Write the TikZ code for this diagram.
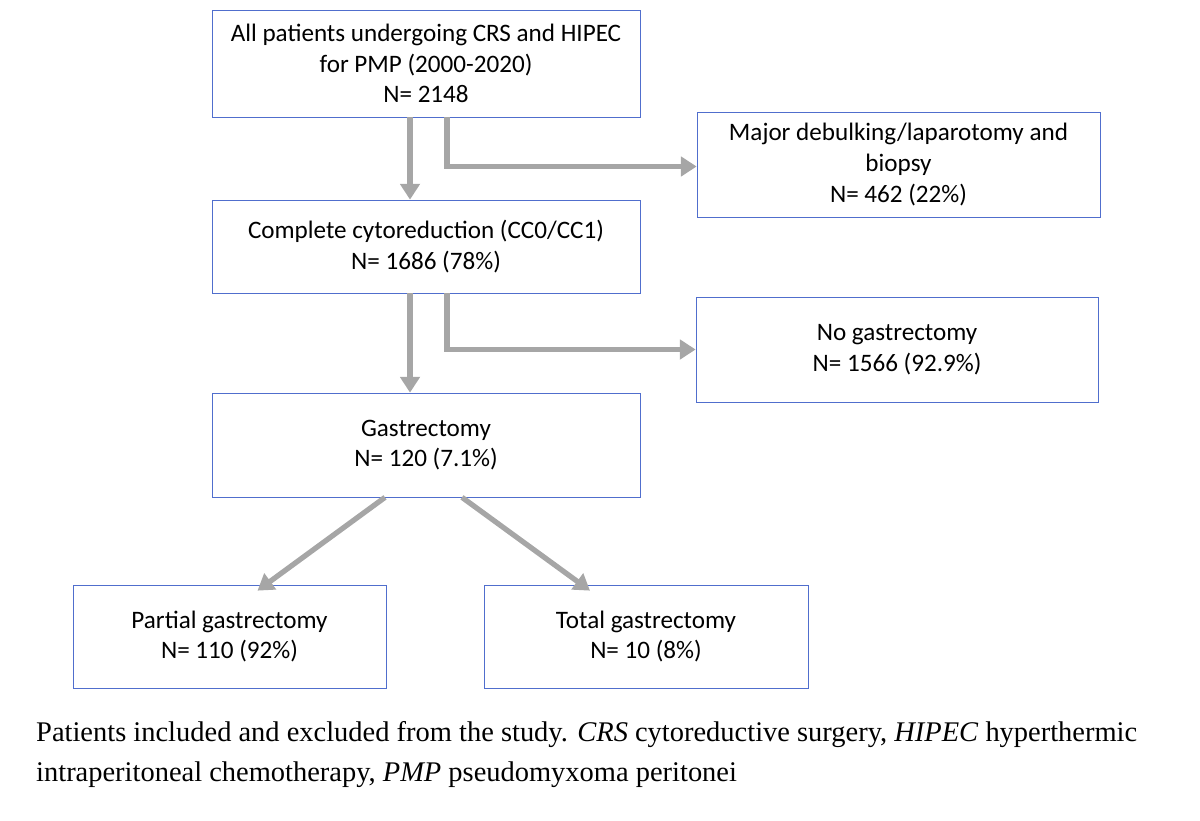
\documentclass[tikz,border=0pt]{standalone}
\usepackage{fontspec}
\setmainfont{Carlito}
\newfontfamily\capfont{Liberation Serif}
\usetikzlibrary{arrows.meta}
\definecolor{boxblue}{RGB}{80,110,205}
\begin{document}
\begin{tikzpicture}[x=0.02cm,y=-0.02cm,
    flowbox/.style={draw=boxblue, thin, align=center, inner sep=0pt,
      font=\fontsize{14.3}{17.5}\selectfont},
    flowarrow/.style={draw=gray!70, line width=3pt, -{Triangle[length=9pt,width=11pt]}}]
  \useasboundingbox (0,0) rectangle (1200,821);
  % boxes
  \node[flowbox, minimum width=428*0.02cm, minimum height=107*0.02cm] (all) at (426,63.5)
    {All patients undergoing CRS and HIPEC\\for PMP (2000-2020)\\N= 2148};
  \node[flowbox, minimum width=403*0.02cm, minimum height=105*0.02cm] (major) at (898.5,164.5)
    {Major debulking/laparotomy and\\biopsy\\N= 462 (22\%)};
  \node[flowbox, minimum width=428*0.02cm, minimum height=93*0.02cm] (cc) at (426,246.5)
    {Complete cytoreduction (CC0/CC1)\\N= 1686 (78\%)};
  \node[flowbox, minimum width=402*0.02cm, minimum height=105*0.02cm] (nogast) at (897,349.5)
    {No gastrectomy\\N= 1566 (92.9\%)};
  \node[flowbox, minimum width=428*0.02cm, minimum height=104*0.02cm] (gast) at (426,445)
    {Gastrectomy\\N= 120 (7.1\%)};
  \node[flowbox, minimum width=313*0.02cm, minimum height=103*0.02cm] (partial) at (229.5,636.5)
    {Partial gastrectomy\\N= 110 (92\%)};
  \node[flowbox, minimum width=324*0.02cm, minimum height=103*0.02cm] (total) at (646,636.5)
    {Total gastrectomy\\N= 10 (8\%)};
  % connectors
  \draw[flowarrow] ([xshift=-16*0.02cm]all.south) -- ([xshift=-16*0.02cm]cc.north);
  \draw[flowarrow] ([xshift=21*0.02cm]all.south) |- ([yshift=-2*0.02cm]major.west);
  \draw[flowarrow] ([xshift=-16*0.02cm]cc.south) -- ([xshift=-16*0.02cm]gast.north);
  \draw[flowarrow] ([xshift=21*0.02cm]cc.south) |- (nogast.west);
  \draw[flowarrow] ([xshift=-41*0.02cm]gast.south) -- ([xshift=28*0.02cm,yshift=-6*0.02cm]partial.north);
  \draw[flowarrow] ([xshift=36*0.02cm]gast.south) -- ([xshift=-56*0.02cm,yshift=-6*0.02cm]total.north);
  % caption
  \node[anchor=west, font=\capfont\fontsize{16.2}{22}\selectfont] (cap1) at (30,735)
    {Patients included and excluded from the study. \textit{CRS} cytoreductive surgery, \textit{HIPEC} hyperthermic};
  \node[anchor=west, font=\capfont\fontsize{16.2}{22}\selectfont] (cap2) at (30,775)
    {intraperitoneal chemotherapy, \textit{PMP} pseudomyxoma peritonei};
\end{tikzpicture}
\end{document}
